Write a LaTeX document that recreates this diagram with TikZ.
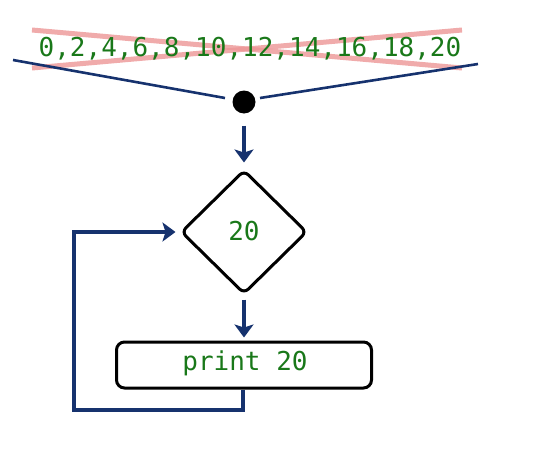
\documentclass[tikz,border=0pt]{standalone}
\usepackage{fontspec}
\setmonofont{DejaVu Sans Mono}
\usetikzlibrary{shapes.geometric,arrows.meta}
\definecolor{codegreen}{RGB}{25,120,25}
\definecolor{navy}{RGB}{22,50,110}
\definecolor{crossred}{RGB}{236,150,150}
\tikzset{
  codetext/.style={font=\ttfamily\fontsize{26}{30}\selectfont, text=codegreen, inner sep=0pt},
  flowarrow/.style={draw=navy, line width=4pt, -{Stealth[length=13pt,width=19pt,inset=3pt]}},
  blueline/.style={draw=navy, line width=2.6pt},
  crossline/.style={draw=crossred, line width=5pt, opacity=0.8},
  decision/.style={diamond, draw=black, line width=3pt, rounded corners=6pt, minimum width=126pt, minimum height=124pt, inner sep=0pt, aspect=1},
  process/.style={rectangle, draw=black, line width=3pt, rounded corners=8pt, minimum width=255pt, minimum height=46pt, inner sep=0pt},
}
\begin{document}
\begin{tikzpicture}[x=1pt,y=-1pt]
\useasboundingbox (0,0) rectangle (555,463);
% crossed-out list
\draw[crossline] (32,30) -- (462,68);
\draw[crossline] (32,68) -- (462,30);
\node[codetext] (nums) at (250,49) {0,2,4,6,8,10,12,14,16,18,20};
% funnel and dot
\node[circle, fill=black, minimum size=23pt, inner sep=0pt] (dot) at (244,102) {};
\coordinate (lstart) at (13,60);
\coordinate (lend) at (225,98);
\coordinate (rstart) at (260,98);
\coordinate (rend) at (478,64);
\draw[blueline] (lstart) -- (lend);
\draw[blueline] (rstart) -- (rend);
% decision
\node[decision] (dec) at (244,232) {};
\node[codetext] (declabel) at (244,231) {20};
% process
\node[process] (proc) at (244,365) {};
\node[codetext] (proclabel) at (245,363) {print 20};
% arrows
\draw[flowarrow, shorten <=12pt, shorten >=6pt] (dot.south) -- (dec.north);
\draw[flowarrow, shorten <=4pt, shorten >=3pt] (dec.south) -- (proc.north);
\coordinate (c1) at (243,410);
\coordinate (c2) at (74,410);
\coordinate (c3) at (74,232);
\draw[flowarrow, shorten >=4pt] (proc.south -| c1) -- (c1) -- (c2) -- (c3) -- (dec.west);
\end{tikzpicture}
\end{document}
